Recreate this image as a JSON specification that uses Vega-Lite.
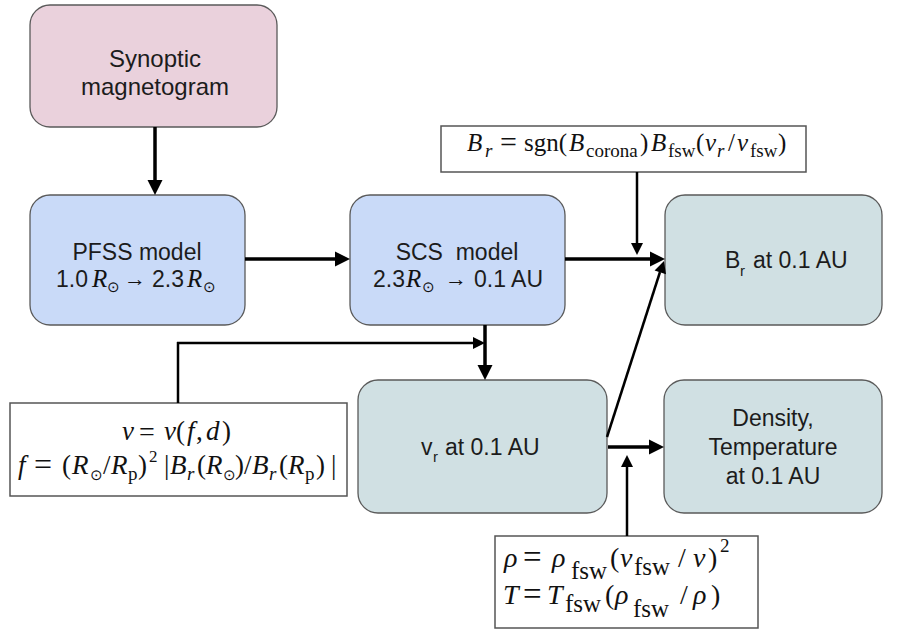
{
  "$schema": "https://vega.github.io/schema/vega-lite/v6.json",
  "width": 904,
  "height": 631,
  "autosize": {"type": "none"},
  "padding": 0,
  "background": "white",
  "config": {"view": {"stroke": null}},
  "datasets": {
    "boxes": [
      {"id": "syn", "x": 30, "x2": 277, "y": 5, "y2": 127, "fill": "#ead1dc"},
      {"id": "pfss", "x": 30, "x2": 245, "y": 195, "y2": 325, "fill": "#c9daf8"},
      {"id": "scs", "x": 350, "x2": 565, "y": 195, "y2": 325, "fill": "#c9daf8"},
      {"id": "br", "x": 665, "x2": 882, "y": 195, "y2": 325, "fill": "#d0e0e3"},
      {"id": "vr", "x": 358, "x2": 607, "y": 380, "y2": 513, "fill": "#d0e0e3"},
      {"id": "dens", "x": 664, "x2": 882, "y": 380, "y2": 513, "fill": "#d0e0e3"}
    ],
    "eqboxes": [
      {"id": "top", "x": 441, "x2": 806, "y": 126, "y2": 172},
      {"id": "left", "x": 10, "x2": 347, "y": 403, "y2": 496},
      {"id": "bottom", "x": 495, "x2": 758, "y": 536, "y2": 628}
    ],
    "lines": [
      {"x": 155, "y": 127, "x2": 155, "y2": 183, "w": 3.5},
      {"x": 245, "y": 259, "x2": 337, "y2": 259, "w": 3.5},
      {"x": 565, "y": 259, "x2": 652, "y2": 259, "w": 3.5},
      {"x": 485, "y": 325, "x2": 485, "y2": 368, "w": 3.5},
      {"x": 608, "y": 447, "x2": 651, "y2": 447, "w": 3.5},
      {"x": 637, "y": 172, "x2": 637, "y2": 245, "w": 2.5},
      {"x": 607, "y": 437, "x2": 660, "y2": 272, "w": 2.5},
      {"x": 178, "y": 403, "x2": 178, "y2": 342, "w": 2.5},
      {"x": 177, "y": 343, "x2": 474, "y2": 343, "w": 2.5},
      {"x": 627, "y": 536, "x2": 627, "y2": 465, "w": 2.5}
    ],
    "heads": [
      {"x": 155, "y": 195, "a": 180, "s": 900},
      {"x": 350, "y": 259, "a": 90, "s": 900},
      {"x": 665, "y": 259, "a": 90, "s": 900},
      {"x": 485, "y": 380, "a": 180, "s": 900},
      {"x": 664, "y": 447, "a": 90, "s": 900},
      {"x": 637, "y": 255, "a": 180, "s": 576},
      {"x": 664, "y": 261, "a": 18, "s": 576},
      {"x": 485, "y": 343, "a": 90, "s": 576},
      {"x": 627, "y": 455, "a": 0, "s": 576}
    ],
    "sansC": [
      {"t": "Synoptic", "x": 155, "y": 67, "s": 24},
      {"t": "magnetogram", "x": 155, "y": 95, "s": 24},
      {"t": "PFSS model", "x": 137, "y": 260, "s": 23},
      {"t": "SCS\u00a0 model", "x": 457, "y": 260, "s": 23},
      {"t": "Density,", "x": 773, "y": 426, "s": 23},
      {"t": "Temperature", "x": 773, "y": 455, "s": 23},
      {"t": "at 0.1 AU", "x": 773, "y": 484, "s": 23}
    ],
    "sansL": [
      {"t": "1.0", "x": 56, "y": 287, "s": 23},
      {"t": "2.3", "x": 152, "y": 287, "s": 23},
      {"t": "2.3", "x": 373, "y": 287, "s": 23},
      {"t": "0.1 AU", "x": 474, "y": 287, "s": 23},
      {"t": "B", "x": 725, "y": 268, "s": 23},
      {"t": "r", "x": 740, "y": 276, "s": 15},
      {"t": "at 0.1 AU", "x": 753, "y": 268, "s": 23},
      {"t": "v", "x": 421, "y": 455, "s": 23},
      {"t": "r", "x": 433, "y": 462, "s": 15},
      {"t": "at 0.1 AU", "x": 445, "y": 455, "s": 23}
    ],
    "serifI": [
      {"t": "R", "x": 92, "y": 287, "s": 25},
      {"t": "R", "x": 187, "y": 287, "s": 25},
      {"t": "R", "x": 406, "y": 287, "s": 25},
      {"t": "B", "x": 467, "y": 151, "s": 25},
      {"t": "r", "x": 485, "y": 157, "s": 19},
      {"t": "B", "x": 569, "y": 151, "s": 25},
      {"t": "B", "x": 651, "y": 151, "s": 25},
      {"t": "v", "x": 705, "y": 151, "s": 25},
      {"t": "r", "x": 717, "y": 157, "s": 19},
      {"t": "v", "x": 737, "y": 151, "s": 25},
      {"t": "v", "x": 122, "y": 440, "s": 27},
      {"t": "v", "x": 164, "y": 440, "s": 27},
      {"t": "f", "x": 187, "y": 440, "s": 27},
      {"t": "d", "x": 206, "y": 440, "s": 27},
      {"t": "f", "x": 18, "y": 474, "s": 27},
      {"t": "R", "x": 72, "y": 474, "s": 27},
      {"t": "R", "x": 111, "y": 474, "s": 27},
      {"t": "B", "x": 170, "y": 474, "s": 27},
      {"t": "r", "x": 187, "y": 480, "s": 19},
      {"t": "R", "x": 206, "y": 474, "s": 27},
      {"t": "B", "x": 252, "y": 474, "s": 27},
      {"t": "r", "x": 269, "y": 480, "s": 19},
      {"t": "R", "x": 288, "y": 474, "s": 27},
      {"t": "\u03c1", "x": 504, "y": 567, "s": 28},
      {"t": "\u03c1", "x": 552, "y": 567, "s": 28},
      {"t": "v", "x": 620, "y": 567, "s": 28},
      {"t": "v", "x": 693, "y": 567, "s": 28},
      {"t": "T", "x": 503, "y": 604, "s": 28},
      {"t": "T", "x": 547, "y": 604, "s": 28},
      {"t": "\u03c1", "x": 615, "y": 604, "s": 28},
      {"t": "\u03c1", "x": 693, "y": 604, "s": 28}
    ],
    "serifN": [
      {"t": "\u2299", "x": 107, "y": 292, "s": 15},
      {"t": "\u2299", "x": 203, "y": 292, "s": 15},
      {"t": "\u2299", "x": 422, "y": 292, "s": 15},
      {"t": "\u2192", "x": 124, "y": 286, "s": 22},
      {"t": "\u2192", "x": 445, "y": 286, "s": 22},
      {"t": "=", "x": 500, "y": 152, "s": 30},
      {"t": "sgn(", "x": 524, "y": 151, "s": 25},
      {"t": "corona", "x": 586, "y": 157, "s": 19},
      {"t": ")", "x": 640, "y": 151, "s": 25},
      {"t": "fsw", "x": 668, "y": 157, "s": 19},
      {"t": "(", "x": 696, "y": 151, "s": 25},
      {"t": "/", "x": 728, "y": 151, "s": 25},
      {"t": "fsw", "x": 750, "y": 157, "s": 19},
      {"t": ")", "x": 778, "y": 151, "s": 25},
      {"t": "=", "x": 139, "y": 441, "s": 28},
      {"t": "(", "x": 176, "y": 440, "s": 27},
      {"t": ",", "x": 196, "y": 440, "s": 27},
      {"t": ")", "x": 222, "y": 440, "s": 27},
      {"t": "=", "x": 34, "y": 475, "s": 32},
      {"t": "(", "x": 62, "y": 474, "s": 27},
      {"t": "\u2299", "x": 90, "y": 480, "s": 15},
      {"t": "/", "x": 103, "y": 474, "s": 27},
      {"t": "p", "x": 128, "y": 480, "s": 19},
      {"t": ")", "x": 138, "y": 474, "s": 27},
      {"t": "2", "x": 149, "y": 462, "s": 17},
      {"t": "|", "x": 164, "y": 474, "s": 27},
      {"t": "(", "x": 197, "y": 474, "s": 27},
      {"t": "\u2299", "x": 223, "y": 480, "s": 15},
      {"t": ")", "x": 235, "y": 474, "s": 27},
      {"t": "/", "x": 244, "y": 474, "s": 27},
      {"t": "(", "x": 279, "y": 474, "s": 27},
      {"t": "p", "x": 305, "y": 480, "s": 19},
      {"t": ")", "x": 316, "y": 474, "s": 27},
      {"t": "|", "x": 331, "y": 474, "s": 27},
      {"t": "=", "x": 523, "y": 568, "s": 33},
      {"t": "fsw", "x": 571, "y": 579, "s": 25},
      {"t": "(", "x": 610, "y": 567, "s": 28},
      {"t": "fsw", "x": 634, "y": 575, "s": 25},
      {"t": "/", "x": 678, "y": 567, "s": 28},
      {"t": ")", "x": 708, "y": 567, "s": 28},
      {"t": "2", "x": 720, "y": 552, "s": 19},
      {"t": "=", "x": 523, "y": 605, "s": 33},
      {"t": "fsw", "x": 565, "y": 612, "s": 25},
      {"t": "(", "x": 605, "y": 604, "s": 28},
      {"t": "fsw", "x": 633, "y": 617, "s": 25},
      {"t": "/", "x": 680, "y": 604, "s": 28},
      {"t": ")", "x": 711, "y": 604, "s": 28}
    ]
  },
  "layer": [
    {
      "data": {"name": "boxes"},
      "mark": {"type": "rect", "cornerRadius": 20, "stroke": "#5a5a5a", "strokeWidth": 1.3},
      "encoding": {
        "x": {"field": "x", "type": "quantitative", "scale": {"domain": [0, 904], "nice": false, "zero": false}, "axis": null},
        "x2": {"field": "x2"},
        "y": {"field": "y", "type": "quantitative", "scale": {"domain": [0, 631], "nice": false, "zero": false, "reverse": true}, "axis": null},
        "y2": {"field": "y2"},
        "fill": {"field": "fill", "type": "nominal", "scale": null}
      }
    },
    {
      "data": {"name": "eqboxes"},
      "mark": {"type": "rect", "fill": "white", "stroke": "#555555", "strokeWidth": 1.5},
      "encoding": {
        "x": {"field": "x", "type": "quantitative", "axis": null},
        "x2": {"field": "x2"},
        "y": {"field": "y", "type": "quantitative", "axis": null},
        "y2": {"field": "y2"}
      }
    },
    {
      "data": {"name": "lines"},
      "mark": {"type": "rule", "color": "black", "strokeCap": "butt"},
      "encoding": {
        "x": {"field": "x", "type": "quantitative", "axis": null},
        "x2": {"field": "x2"},
        "y": {"field": "y", "type": "quantitative", "axis": null},
        "y2": {"field": "y2"},
        "strokeWidth": {"field": "w", "type": "quantitative", "scale": null}
      }
    },
    {
      "data": {"name": "heads"},
      "mark": {"type": "point", "shape": "M0,0L0.5,1L-0.5,1Z", "filled": true, "color": "black", "opacity": 1, "strokeWidth": 0},
      "encoding": {
        "x": {"field": "x", "type": "quantitative", "axis": null},
        "y": {"field": "y", "type": "quantitative", "axis": null},
        "angle": {"field": "a", "type": "quantitative", "scale": null},
        "size": {"field": "s", "type": "quantitative", "scale": null}
      }
    },
    {
      "data": {"name": "sansC"},
      "mark": {"type": "text", "font": "Liberation Sans", "align": "center", "baseline": "alphabetic", "color": "#1c1c1c"},
      "encoding": {
        "x": {"field": "x", "type": "quantitative", "axis": null},
        "y": {"field": "y", "type": "quantitative", "axis": null},
        "text": {"field": "t"},
        "size": {"field": "s", "type": "quantitative", "scale": null}
      }
    },
    {
      "data": {"name": "sansL"},
      "mark": {"type": "text", "font": "Liberation Sans", "align": "left", "baseline": "alphabetic", "color": "#1c1c1c"},
      "encoding": {
        "x": {"field": "x", "type": "quantitative", "axis": null},
        "y": {"field": "y", "type": "quantitative", "axis": null},
        "text": {"field": "t"},
        "size": {"field": "s", "type": "quantitative", "scale": null}
      }
    },
    {
      "data": {"name": "serifI"},
      "mark": {"type": "text", "font": "Liberation Serif", "fontStyle": "italic", "align": "left", "baseline": "alphabetic", "color": "#111111"},
      "encoding": {
        "x": {"field": "x", "type": "quantitative", "axis": null},
        "y": {"field": "y", "type": "quantitative", "axis": null},
        "text": {"field": "t"},
        "size": {"field": "s", "type": "quantitative", "scale": null}
      }
    },
    {
      "data": {"name": "serifN"},
      "mark": {"type": "text", "font": "Liberation Serif", "align": "left", "baseline": "alphabetic", "color": "#111111"},
      "encoding": {
        "x": {"field": "x", "type": "quantitative", "axis": null},
        "y": {"field": "y", "type": "quantitative", "axis": null},
        "text": {"field": "t"},
        "size": {"field": "s", "type": "quantitative", "scale": null}
      }
    }
  ]
}
